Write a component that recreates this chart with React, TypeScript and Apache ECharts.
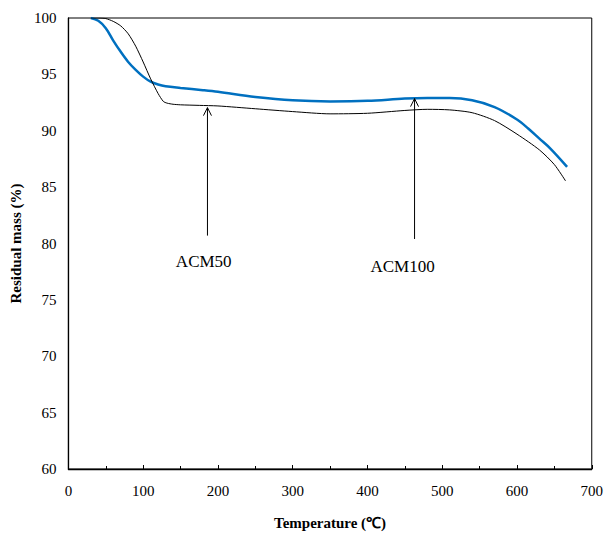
import React, { useEffect, useRef } from "react";
import * as echarts from "echarts";

// ACM50 (black curve)
const acm50Temp = [30, 40, 50, 60, 70, 80, 90, 100, 110, 120, 127, 132, 140, 150, 175, 200, 250, 300, 350, 400, 450, 480, 510, 540, 570, 600, 630, 650, 665];
const acm50Mass = [100, 100, 99.95, 99.7, 99.3, 98.6, 97.5, 96.1, 94.6, 93.3, 92.6, 92.45, 92.35, 92.3, 92.25, 92.2, 91.95, 91.7, 91.5, 91.55, 91.8, 91.9, 91.85, 91.6, 90.9, 89.7, 88.3, 87.0, 85.55];

// ACM100 (blue curve)
const acm100Temp = [30, 40, 50, 60, 70, 80, 90, 100, 110, 120, 130, 150, 180, 200, 250, 300, 350, 400, 450, 480, 510, 540, 570, 600, 615, 630, 645, 667];
const acm100Mass = [100, 99.75, 99.1, 98.0, 97.0, 96.1, 95.4, 94.8, 94.35, 94.1, 93.95, 93.8, 93.6, 93.45, 93.0, 92.7, 92.6, 92.65, 92.85, 92.9, 92.9, 92.7, 92.1, 91.0, 90.2, 89.3, 88.4, 86.8];

// Annotations (arrow + label), in data units
const annotationNames = ["ACM50", "ACM100"];
const annotationX = [186, 463];
const annotationTipY = [92.05, 92.85];
const annotationTailY = [80.7, 80.4];
const annotationLabelX = [181, 447];
const annotationLabelY = [78.4, 78.0];

const xTicks = { min: 0, max: 700, interval: 100 };
const yTicks = { min: 60, max: 100, interval: 5 };

const FONT = "Liberation Serif";

export default function App() {
  const ref = useRef<HTMLDivElement>(null);

  useEffect(() => {
    document.body.style.margin = "0";
    if (!ref.current) return;
    const chart = echarts.init(ref.current, undefined, { renderer: "svg" });

    const annData = annotationNames.map((_, i) => [
      annotationX[i],
      annotationTipY[i],
      annotationTailY[i],
      annotationLabelX[i],
      annotationLabelY[i],
    ]);

    chart.setOption({
      animation: false,
      backgroundColor: "#fff",
      textStyle: { fontFamily: FONT },
      grid: {
        left: 64,
        right: 14,
        top: 18,
        bottom: 64,
        show: true,
        borderColor: "#000",
        borderWidth: 1,
      },
      xAxis: {
        type: "value",
        min: xTicks.min,
        max: xTicks.max,
        interval: xTicks.interval,
        name: "Temperature (℃)",
        nameLocation: "middle",
        nameGap: 46,
        nameTextStyle: { fontFamily: FONT, fontSize: 15, fontWeight: "bold", color: "#000" },
        axisLine: { show: true, lineStyle: { color: "#000", width: 1.3 } },
        axisTick: { show: true, inside: true, length: 4, lineStyle: { color: "#000" } },
        minorTick: { show: true, splitNumber: 2, length: 3, lineStyle: { color: "#000" } },
        axisLabel: { fontFamily: FONT, fontSize: 15, color: "#000", margin: 14 },
        splitLine: { show: false },
      },
      yAxis: {
        type: "value",
        min: yTicks.min,
        max: yTicks.max,
        interval: yTicks.interval,
        name: "Residual mass (%)",
        nameLocation: "middle",
        nameGap: 40,
        nameRotate: 90,
        nameTextStyle: { fontFamily: FONT, fontSize: 15, fontWeight: "bold", color: "#000" },
        axisLine: { show: true, lineStyle: { color: "#000", width: 1.3 } },
        axisTick: { show: false },
        axisLabel: { fontFamily: FONT, fontSize: 15, color: "#000", margin: 12 },
        splitLine: { show: false },
      },
      series: [
        {
          name: "ACM50",
          type: "line",
          data: acm50Temp.map((t, i) => [t, acm50Mass[i]]),
          showSymbol: false,
          smooth: 0.25,
          lineStyle: { color: "#000", width: 1 },
          z: 3,
        },
        {
          name: "ACM100",
          type: "line",
          data: acm100Temp.map((t, i) => [t, acm100Mass[i]]),
          showSymbol: false,
          smooth: 0.35,
          lineStyle: { color: "#0070C0", width: 2.5 },
          z: 2,
        },
        {
          name: "annotations",
          type: "custom",
          data: annData,
          encode: { x: 0, y: 1 },
          clip: false,
          z: 5,
          renderItem: (params: any, api: any) => {
            const x = api.value(0);
            const tip = api.coord([x, api.value(1)]);
            const tail = api.coord([x, api.value(2)]);
            const lab = api.coord([api.value(3), api.value(4)]);
            return {
              type: "group",
              children: [
                {
                  type: "line",
                  shape: { x1: tail[0], y1: tail[1], x2: tip[0], y2: tip[1] },
                  style: { stroke: "#000", lineWidth: 1 },
                },
                {
                  type: "polyline",
                  shape: {
                    points: [
                      [tip[0] - 4, tip[1] + 8],
                      [tip[0], tip[1]],
                      [tip[0] + 4, tip[1] + 8],
                    ],
                  },
                  style: { stroke: "#000", lineWidth: 1, fill: "none" },
                },
                {
                  type: "text",
                  x: lab[0],
                  y: lab[1],
                  style: {
                    text: annotationNames[params.dataIndex],
                    fontFamily: FONT,
                    fontSize: 17,
                    fill: "#000",
                    align: "center",
                    verticalAlign: "middle",
                  },
                },
              ],
            };
          },
        },
      ],
    });

    return () => chart.dispose();
  }, []);

  return <div ref={ref} style={{ width: 606, height: 535 }} />;
}
